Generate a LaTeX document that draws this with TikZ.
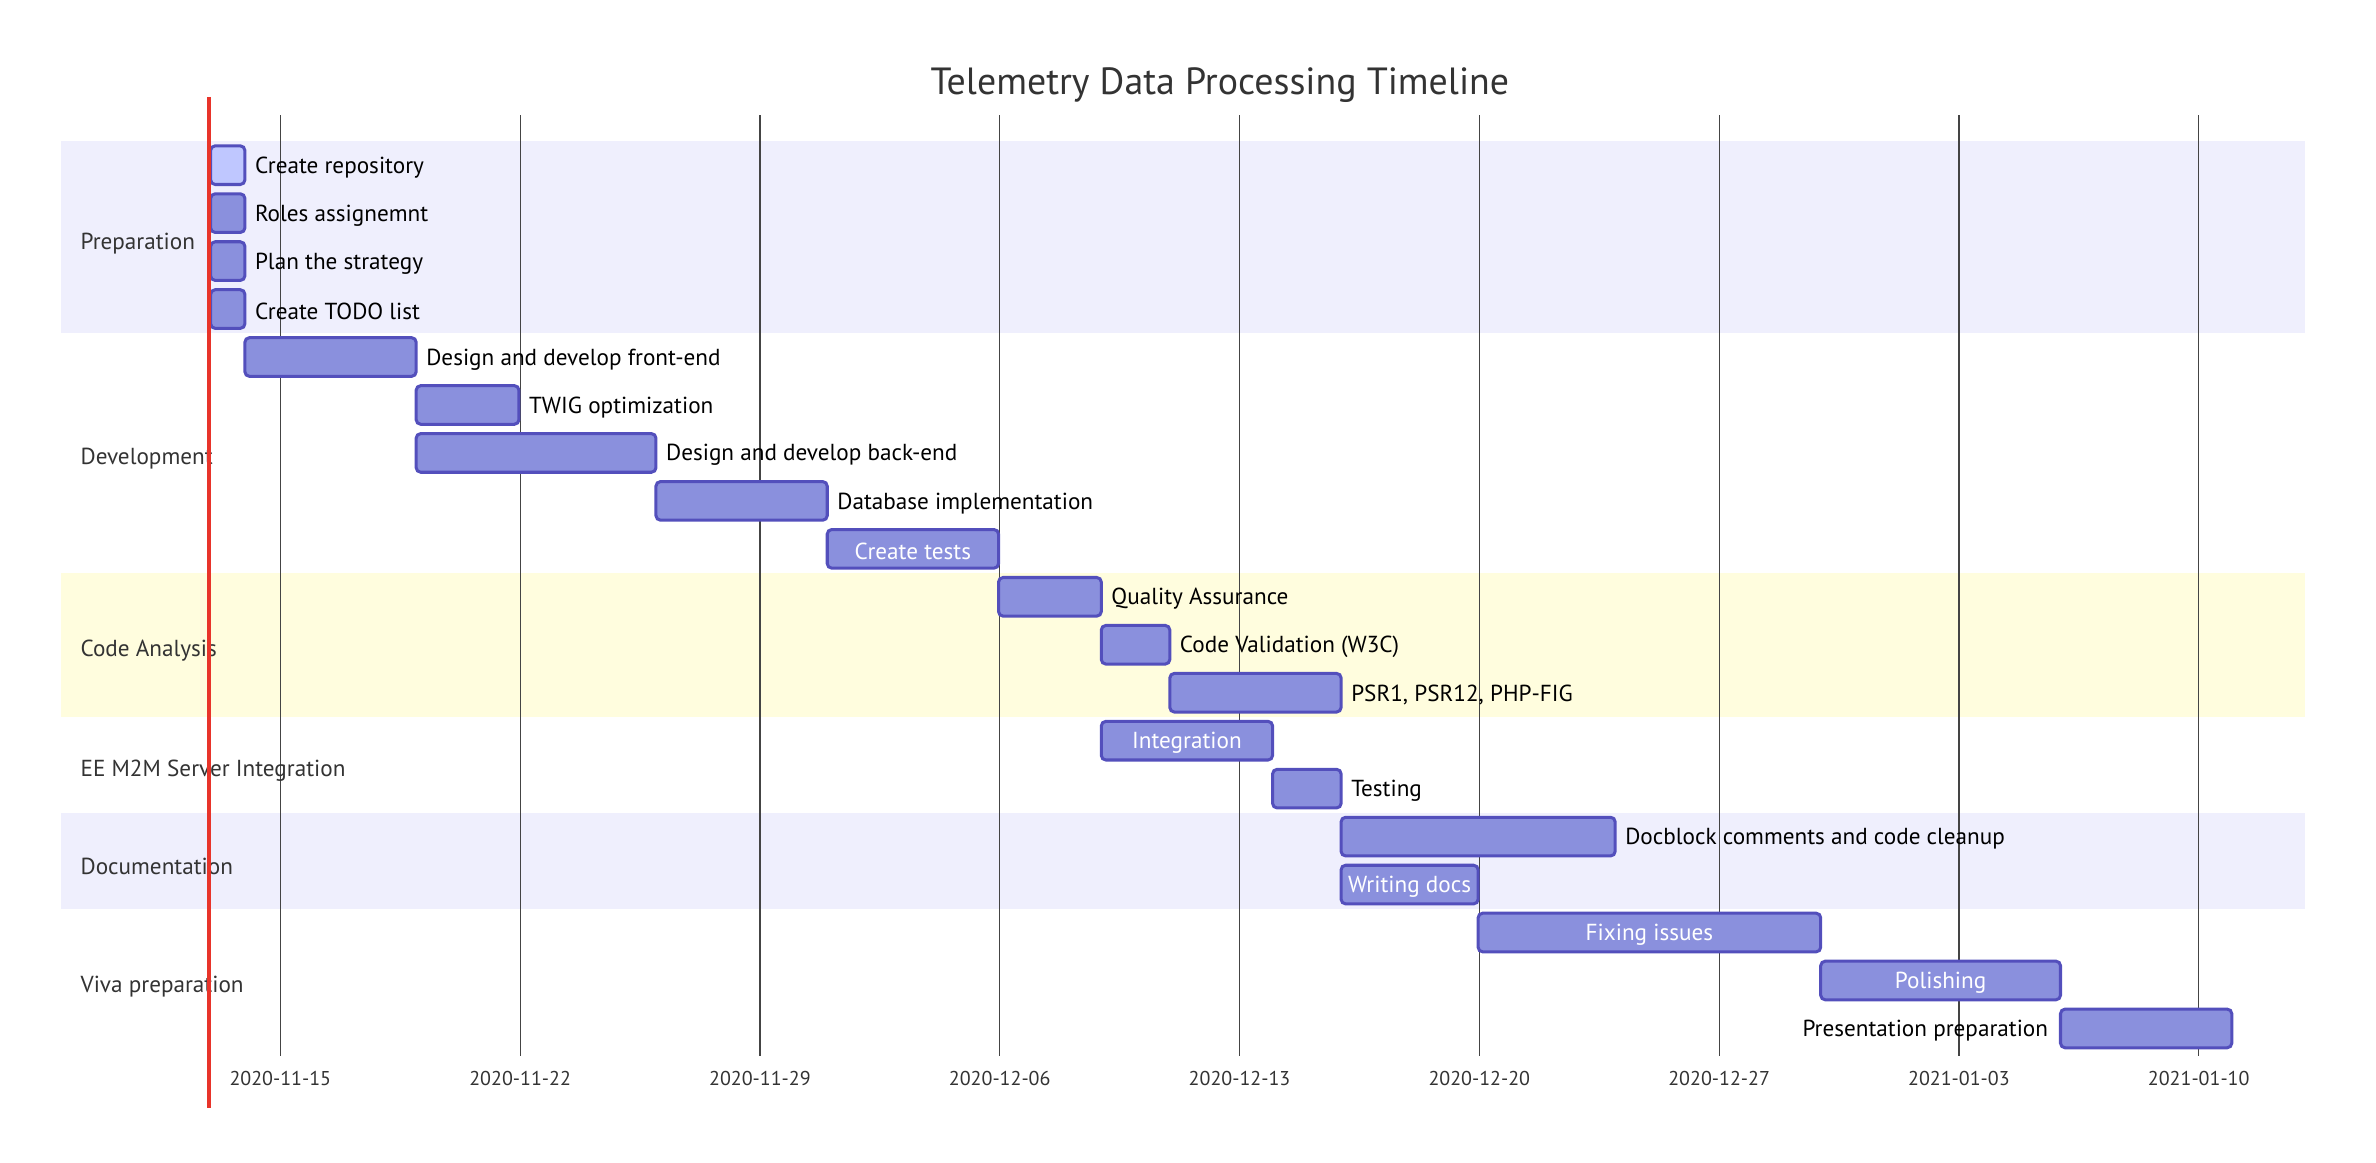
\documentclass[tikz,border=0pt]{standalone}
\usepackage{fontspec}
\setmainfont{PT Sans}
\usetikzlibrary{positioning}

\definecolor{taskfill}{HTML}{8A90DD}
\definecolor{taskline}{HTML}{534FBC}
\definecolor{activefill}{HTML}{BFC7FF}
\definecolor{bandblue}{HTML}{EFEFFD}
\definecolor{bandyellow}{HTML}{FFFDDE}
\definecolor{todayred}{HTML}{E8342A}
\definecolor{gridgray}{HTML}{444444}
\definecolor{darktext}{HTML}{333333}

\newcommand{\dayw}{22.607}
\newcommand{\rowh}{31.65}
\newcommand{\xo}{138}
\newcommand{\yo}{109}

\begin{document}
\begin{tikzpicture}[x=1pt, y=-1pt,
    task/.style={draw=taskline, fill=taskfill, line width=2pt, rounded corners=3pt,
      minimum height=25.5pt, inner sep=0pt, anchor=west},
    tasktext/.style={font=\fontsize{15.3}{17}\selectfont, inner sep=0pt, yshift=-1.5pt},
    seclabel/.style={font=\fontsize{15.3}{17}\selectfont, text=darktext, anchor=west, inner sep=0pt},
    ticklabel/.style={font=\fontsize{13.2}{15}\selectfont, text=darktext, inner sep=0pt},
    gridline/.style={draw=gridgray, line width=0.8pt}
  ]
  \useasboundingbox (0,0) rectangle (1568,767);

  % section bands
  \fill[bandblue]   (40,{\yo-0.5*\rowh})  rectangle (1521,{\yo+3.5*\rowh});
  \fill[bandyellow] (40,{\yo+8.5*\rowh})  rectangle (1521,{\yo+11.5*\rowh});
  \fill[bandblue]   (40,{\yo+13.5*\rowh}) rectangle (1521,{\yo+15.5*\rowh});

  \node[font=\fontsize{25}{28}\selectfont, text=darktext] (title) at (805,56) {Telemetry Data Processing Timeline};

  % weekly grid
  \foreach \k/\d in {0/2020-11-15, 1/2020-11-22, 2/2020-11-29, 3/2020-12-06, 4/2020-12-13,
                     5/2020-12-20, 6/2020-12-27, 7/2021-01-03, 8/2021-01-10}
  {
    \coordinate (gtop\k) at ({185+7*\k*\dayw},76);
    \coordinate (gbot\k) at ({185+7*\k*\dayw},697);
    \draw[gridline] (gtop\k) -- (gbot\k);
    \node[ticklabel] (tick\k) at ({185+7*\k*\dayw},712) {\d};
  }

  % section labels
  \node[seclabel] (prep) at (53,{\yo+1.5*\rowh+4}) {Preparation};
  \node[seclabel] (dev)  at (53,{\yo+6*\rowh+4})   {Development};
  \node[seclabel] (code) at (53,{\yo+10*\rowh+4})  {Code Analysis};
  \node[seclabel] (mtm)  at (53,{\yo+12.5*\rowh+4}) {EE M2M Server Integration};
  \node[seclabel] (docs) at (53,{\yo+14.5*\rowh+4}) {Documentation};
  \node[seclabel] (viva) at (53,{\yo+17*\rowh+4})  {Viva preparation};

  % tasks, label right of the bar
  \foreach \nm/\st/\en/\row/\fc/\lbl in {
      repo/0/1/0/activefill/Create repository,
      roles/0/1/1/taskfill/Roles assignemnt,
      plan/0/1/2/taskfill/Plan the strategy,
      todo/0/1/3/taskfill/Create TODO list,
      front/1/6/4/taskfill/Design and develop front-end,
      twig/6/9/5/taskfill/TWIG optimization,
      back/6/13/6/taskfill/Design and develop back-end,
      db/13/18/7/taskfill/Database implementation,
      qa/23/26/9/taskfill/Quality Assurance,
      wcheck/26/28/10/taskfill/Code Validation (W3C),
      psr/28/33/11/taskfill/{PSR1, PSR12, PHP-FIG},
      testing/31/33/13/taskfill/Testing,
      docblock/33/41/14/taskfill/Docblock comments and code cleanup}
  {
    \node[task, fill=\fc, minimum width={(\en-\st)*\dayw pt}] (\nm) at ({\xo+\st*\dayw},{\yo+\row*\rowh}) {};
    \node[tasktext, right=5.5pt of \nm] (\nm-lbl) {\lbl};
  }

  % tasks, label inside the bar
  \foreach \nm/\st/\en/\row/\lbl in {
      tests/18/23/8/Create tests,
      integ/26/31/12/Integration,
      writing/33/37/15/Writing docs,
      fixing/37/47/16/Fixing issues,
      polish/47/54/17/Polishing}
  {
    \node[task, minimum width={(\en-\st)*\dayw pt}] (\nm) at ({\xo+\st*\dayw},{\yo+\row*\rowh}) {};
    \node[tasktext, text=white] (\nm-lbl) at (\nm.center) {\lbl};
  }

  % last task, label left of the bar
  \node[task, minimum width={5*\dayw pt}] (present) at ({\xo+54*\dayw},{\yo+18*\rowh}) {};
  \node[tasktext, left=7pt of present] (present-lbl) {Presentation preparation};

  % today marker
  \coordinate (todaytop) at (\xo,64);
  \coordinate (todaybot) at (\xo,731);
  \draw[todayred, line width=2.4pt] (todaytop) -- (todaybot);
\end{tikzpicture}
\end{document}
